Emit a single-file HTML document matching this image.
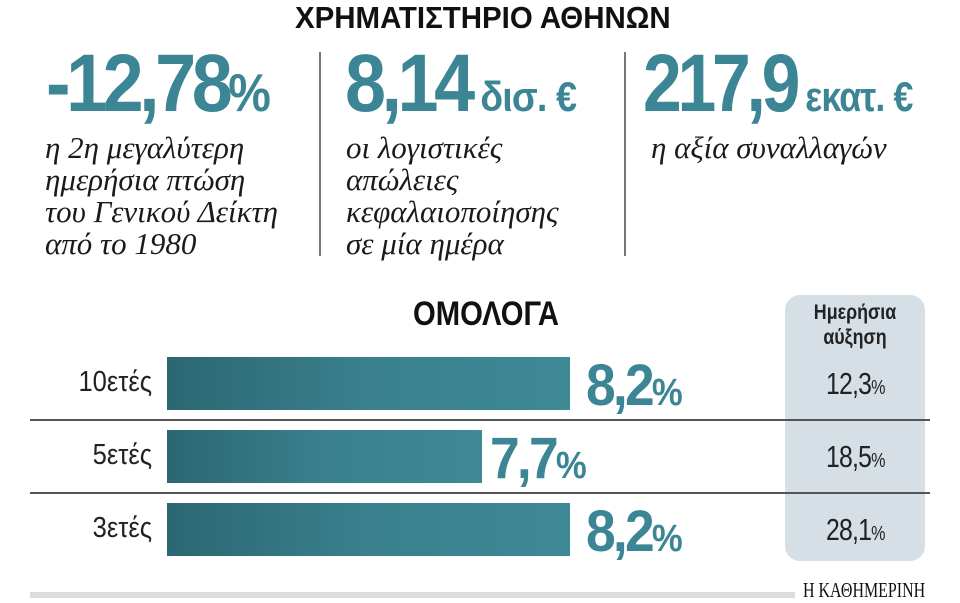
<!DOCTYPE html>
<html><head><meta charset="utf-8"><style>
body{margin:0;width:960px;height:600px;background:#fff;position:relative;overflow:hidden;font-family:"Liberation Sans",sans-serif}
.a{position:absolute;white-space:nowrap}
.c{transform-origin:0 0}
.r{transform-origin:100% 0;text-align:right}
.big{color:#3b8594;font-weight:bold;font-size:82px;line-height:80px;letter-spacing:-5px}
.it{font-family:"Liberation Serif",serif;font-style:italic;font-size:31px;line-height:32px;color:#1a1a1a}
.bar{position:absolute;left:167px;height:53px;background:linear-gradient(to right,#2b6772,#3a808d 50%,#3e8996)}
.val{color:#3b8594;font-weight:bold;font-size:58px;line-height:56px;letter-spacing:-3px}
.lab{font-size:29px;color:#222;width:200px}
.pct{font-size:0.65em;letter-spacing:-1px}
.rv{font-size:31px;color:#222;letter-spacing:-1px;transform:scaleX(0.8)}
.line{position:absolute;left:30px;width:900px;height:2px;background:#555}
</style></head><body>
<div class="a c" style="left:295px;top:0px;font-size:31px;font-weight:bold;color:#111;transform:scaleX(0.95)">ΧΡΗΜΑΤΙΣΤΗΡΙΟ ΑΘΗΝΩΝ</div>

<div class="a c big" style="left:46px;top:44px;transform:scaleX(0.9)">-12,78<span class="pct">%</span></div>
<div class="a it" style="left:45px;top:132px">η 2η μεγαλύτερη<br>ημερήσια πτώση<br>του Γενικού Δείκτη<br>από το 1980</div>

<div class="a" style="left:319px;top:52px;width:2px;height:204px;background:#777"></div>
<div class="a c big" style="left:345px;top:44px;transform:scaleX(0.9)">8,14<span style="font-size:42px;letter-spacing:-1px"> δισ. €</span></div>
<div class="a it" style="left:346px;top:132px">οι λογιστικές<br>απώλειες<br>κεφαλαιοποίησης<br>σε μία ημέρα</div>

<div class="a" style="left:624px;top:52px;width:2px;height:204px;background:#777"></div>
<div class="a c big" style="left:643px;top:44px;transform:scaleX(0.85)">217,9<span style="font-size:42px;letter-spacing:-1px"> εκατ. €</span></div>
<div class="a it" style="left:651px;top:132px">η αξία συναλλαγών</div>

<div class="a" style="left:785px;top:295px;width:140px;height:266px;background:#d5dfe5;border-radius:15px"></div>
<div class="a c" style="left:413px;top:295px;font-size:34px;font-weight:bold;color:#111;transform:scaleX(0.86)">ΟΜΟΛΟΓΑ</div>
<div class="a" style="left:785px;top:300px;width:140px;text-align:center;font-size:21px;line-height:25px;font-weight:bold;color:#222;transform:scaleX(0.85)">Ημερήσια<br>αύξηση</div>

<div class="line" style="top:419px"></div>
<div class="line" style="top:492px"></div>

<div class="bar" style="top:357px;width:403px"></div>
<div class="bar" style="top:430px;width:315px"></div>
<div class="bar" style="top:503px;width:403px"></div>

<div class="a lab r" style="left:-48px;top:366px;transform:scaleX(0.88)">10ετές</div>
<div class="a lab r" style="left:-48px;top:439px;transform:scaleX(0.88)">5ετές</div>
<div class="a lab r" style="left:-48px;top:512px;transform:scaleX(0.88)">3ετές</div>

<div class="a c val" style="left:586px;top:358px;transform:scaleX(0.92)">8,2<span class="pct">%</span></div>
<div class="a c val" style="left:490px;top:431px;transform:scaleX(0.92)">7,7<span class="pct">%</span></div>
<div class="a c val" style="left:586px;top:504px;transform:scaleX(0.92)">8,2<span class="pct">%</span></div>

<div class="a c rv" style="left:826px;top:366px">12,3<span class="pct">%</span></div>
<div class="a c rv" style="left:826px;top:439px">18,5<span class="pct">%</span></div>
<div class="a c rv" style="left:826px;top:512px">28,1<span class="pct">%</span></div>

<div class="a" style="left:30px;top:592px;width:765px;height:6px;background:#dcdcdc"></div>
<div class="a c" style="left:803px;top:578px;font-family:'Liberation Serif',serif;font-size:21px;color:#111;transform:scaleX(0.76)">Η ΚΑΘΗΜΕΡΙΝΗ</div>
</body></html>
